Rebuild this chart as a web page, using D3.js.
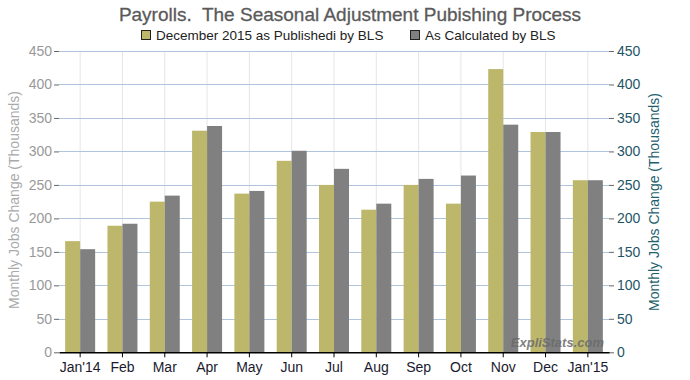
<!DOCTYPE html>
<html><head><meta charset="utf-8">
<script src="https://cdn.jsdelivr.net/npm/d3@7"></script>
<style>body{margin:0;background:#fff}svg{display:block;font-family:"Liberation Sans",Arial,sans-serif}</style>
</head><body>
<svg id="c" width="690" height="380"></svg>
<script>
const categories = ["Jan'14","Feb","Mar","Apr","May","Jun","Jul","Aug","Sep","Oct","Nov","Dec","Jan'15"];
const published = [166,189,225,331,237,286,250,213,250,222,423,329,257];
const calculated = [154,192,234,338,241,301,274,222,259,264,340,329,257];
const seriesNames = ["December 2015 as Publishedi by BLS","As Calculated by BLS"];
const yTicks = [0,50,100,150,200,250,300,350,400,450];

const svg = d3.select("#c");
const L = 59, R = 609, T = 51, B = 352.3;
const x = d3.scaleBand().domain(categories).range([L,R]).paddingInner(0).paddingOuter(0);
const x1 = d3.scaleBand().domain([0,1]).range([0,30]);
const y = d3.scaleLinear().domain([0,450]).range([B,T]);
const colors = ["#bdb76b","#808080"];

// vertical grid
svg.append("g").selectAll("line").data(categories).join("line")
  .attr("x1",d=>x(d)+x.bandwidth()/2).attr("x2",d=>x(d)+x.bandwidth()/2)
  .attr("y1",T).attr("y2",B).attr("stroke","#e6e6e6").attr("stroke-width",1);
// horizontal grid
svg.append("g").selectAll("line").data(yTicks.filter(v=>v>0)).join("line")
  .attr("x1",L).attr("x2",R).attr("y1",d=>Math.round(y(d))+0.5).attr("y2",d=>Math.round(y(d))+0.5)
  .attr("stroke","#b0c4de").attr("stroke-width",1);

// bars
const groups = svg.append("g").selectAll("g").data(categories).join("g")
  .attr("transform",d=>`translate(${x(d)+x.bandwidth()/2-15},0)`);
groups.each(function(d,i){
  const vals=[published[i],calculated[i]];
  d3.select(this).selectAll("rect").data(vals).join("rect")
    .attr("x",(v,j)=>x1(j)).attr("width",x1.bandwidth())
    .attr("y",v=>y(v)).attr("height",v=>B-y(v))
    .attr("fill",(v,j)=>colors[j]);
});

// left axis
const la = svg.append("g").attr("transform",`translate(${L},0)`)
  .call(d3.axisLeft(y).tickValues(yTicks).tickSize(5).tickPadding(2));
la.select(".domain").remove();
la.selectAll("line").attr("stroke","#666");
la.selectAll("text").attr("fill","#999").style("font-size","14px").style("font-family","Liberation Sans, Arial, sans-serif");
// right axis
const ra = svg.append("g").attr("transform",`translate(${R},0)`)
  .call(d3.axisRight(y).tickValues(yTicks).tickSize(5).tickPadding(3));
ra.select(".domain").remove();
ra.selectAll("line").attr("stroke","#666");
ra.selectAll("text").attr("fill","#1e5566").style("font-size","14px").style("font-family","Liberation Sans, Arial, sans-serif");
// bottom axis
const ba = svg.append("g").attr("transform",`translate(0,${B})`)
  .call(d3.axisBottom(x).tickSize(5).tickPadding(5).tickSizeOuter(0));
ba.select(".domain").attr("stroke","#000").attr("stroke-width",1.5);
ba.selectAll("line").attr("stroke","#000");
ba.selectAll("text").attr("fill","#1a1a2e").style("font-size","14px").style("font-family","Liberation Sans, Arial, sans-serif");

// axis titles
svg.append("text").attr("transform","translate(19,200) rotate(-90)").attr("text-anchor","middle")
  .attr("fill","#aaa").style("font-size","14px").text("Monthly Jobs Change (Thousands)");
svg.append("text").attr("transform","translate(659,202) rotate(-90)").attr("text-anchor","middle")
  .attr("fill","#1e5f6e").style("font-size","14px").text("Monthly Jobs Change (Thousands)");

// title
svg.append("text").attr("x",350).attr("y",21).attr("text-anchor","middle")
  .attr("fill","#5a5a5a").attr("stroke","#5a5a5a").attr("stroke-width",0.3).style("font-size","19px").style("white-space","pre")
  .text("Payrolls.  The Seasonal Adjustment Pubishing Process");

// legend
const legX=[141,410];
seriesNames.forEach((n,i)=>{
  svg.append("rect").attr("x",legX[i]+0.5).attr("y",30.5).attr("width",9).attr("height",9)
    .attr("fill",colors[i]).attr("stroke","#222").attr("stroke-width",1);
  svg.append("text").attr("x",legX[i]+15).attr("y",40).attr("fill","#222")
    .style("font-size","13.5px").text(n);
});

// watermark
svg.append("text").attr("x",604).attr("y",347).attr("text-anchor","end")
  .attr("fill","#6a6a6a").attr("fill-opacity",0.85).style("font-size","13px").style("font-weight","bold").style("font-style","italic")
  .text("ExpliStats.com");
</script>
</body></html>
